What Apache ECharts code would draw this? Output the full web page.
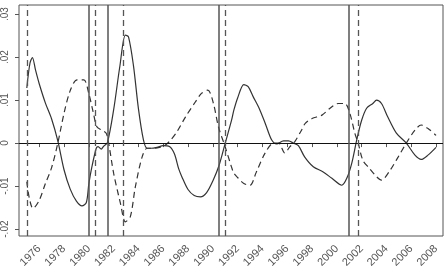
<!DOCTYPE html>
<html>
<head>
<meta charset="utf-8">
<script src="https://cdn.jsdelivr.net/npm/echarts@6/dist/echarts.min.js"></script>
<style>
  html, body { margin: 0; padding: 0; background: #fff; }
  #chart { width: 447px; height: 272px; }
</style>
</head>
<body>
<div id="chart"></div>
<script>
// solid series (years, values)
const solidYears = [1975.0, 1975.25, 1975.45, 1975.7, 1976.0, 1976.5, 1977.0, 1977.5, 1978.0, 1978.5,
  1979.0, 1979.45, 1979.8, 1980.0, 1980.25, 1980.6, 1980.75, 1981.0, 1981.2, 1981.5,
  1982.0, 1982.5, 1982.95, 1983.2, 1983.6, 1984.0, 1984.4, 1984.7, 1985.0, 1985.5,
  1986.0, 1986.5, 1986.9, 1987.25, 1987.5, 1988.0, 1988.5, 1989.0, 1989.5, 1990.0,
  1990.5, 1991.0, 1991.5, 1991.7, 1992.0, 1992.5, 1992.85, 1993.25, 1993.75, 1994.25,
  1994.75, 1995.15, 1995.7, 1996.1, 1996.5, 1996.9, 1997.4, 1998.1, 1998.9, 1999.6,
  2000.4, 2000.8, 2001.2, 2001.6, 2002.0, 2002.4, 2002.9, 2003.2, 2003.6, 2004.1,
  2004.8, 2005.6, 2006.3, 2006.8, 2007.35, 2008.0];
const solidValues = [0.0128, 0.0185, 0.0199, 0.0170, 0.0138, 0.0093, 0.0056, 0.0005, -0.0062, -0.0107,
  -0.0135, -0.0146, -0.0138, -0.0095, -0.0055, -0.0012, -0.0008, -0.0014, -0.0007, 0.0001,
  0.0077, 0.0178, 0.0251, 0.0247, 0.0180, 0.0080, 0.0008, -0.0012, -0.0012, -0.0010,
  -0.0006, -0.0008, -0.0025, -0.0060, -0.0078, -0.0108, -0.0122, -0.0125, -0.0115, -0.0088,
  -0.0052, 0.0, 0.0052, 0.0077, 0.0105, 0.0136, 0.0131, 0.0108, 0.0080, 0.0044,
  0.0007, -0.0002, 0.0005, 0.0005, 0.0, -0.0006, -0.0032, -0.0055, -0.0067, -0.0082,
  -0.0098, -0.0082, -0.0047, 0.0007, 0.0053, 0.0081, 0.0092, 0.0100, 0.0092, 0.0061,
  0.0023, 0.0, -0.0028, -0.0038, -0.0028, -0.0010];

// dashed series (years, values)
const dashedYears = [1975.0, 1975.2, 1975.5, 1976.0, 1976.5, 1977.0, 1977.5, 1978.0, 1978.5, 1979.05,
  1979.6, 1980.0, 1980.35, 1980.65, 1981.05, 1981.4, 1981.6, 1982.0, 1982.55, 1982.95,
  1983.35, 1983.75, 1984.3, 1984.7, 1985.2, 1985.7, 1986.15, 1986.6, 1987.1, 1987.8,
  1988.6, 1989.1, 1989.6, 1990.05, 1990.45, 1991.0, 1991.5, 1991.7, 1992.0, 1992.5,
  1993.0, 1993.5, 1994.2, 1994.9, 1995.3, 1995.8, 1996.2, 1996.6, 1997.15, 1997.45,
  1998.0, 1998.8, 1999.45, 2000.1, 2000.65, 2001.05, 2001.45, 2001.72, 2002.1, 2002.6,
  2003.2, 2003.6, 2004.3, 2004.95, 2005.6, 2006.3, 2006.8, 2007.35, 2008.0];
const dashedValues = [-0.0090, -0.0128, -0.0152, -0.0133, -0.0094, -0.0057, 0.0, 0.0069, 0.0122, 0.0147,
  0.0147, 0.0115, 0.0072, 0.0038, 0.0030, 0.0023, 0.0, -0.0070, -0.0140, -0.0183,
  -0.0171, -0.0102, -0.0032, -0.0012, -0.0012, -0.0010, -0.0005, 0.0007, 0.0026, 0.0061,
  0.0096, 0.0116, 0.0123, 0.0092, 0.0038, -0.0009, -0.0055, -0.0070, -0.0080, -0.0094,
  -0.0098, -0.0068, -0.0024, 0.0, 0.0, -0.0023, -0.0009, 0.0003, 0.0030, 0.0046,
  0.0057, 0.0065, 0.0081, 0.0092, 0.0092, 0.0069, 0.0023, 0.0, -0.0040, -0.0058,
  -0.0078, -0.0086, -0.0063, -0.0032, 0.0, 0.0030, 0.0042, 0.0034, 0.0018];

// vertical reference lines
const solidVLines = [1980.0, 1981.5, 1990.5, 2001.0];
const dashedVLines = [1975.0, 1980.5, 1982.75, 1991.0, 2001.75];

const xTicks = [1976, 1978, 1980, 1982, 1984, 1986, 1988, 1990, 1992, 1994, 1996, 1998, 2000, 2002, 2004, 2006, 2008];
const yTicks = [-0.02, -0.01, 0, 0.01, 0.02, 0.03];

const FONT = 'Liberation Sans';
const toPairs = (xs, ys) => xs.map((x, i) => [x, ys[i]]);

function fmtY(v) {
  if (Math.abs(v) < 1e-9) return '0';
  return (v < 0 ? '-' : '') + Math.abs(v).toFixed(2).replace(/^0/, '');
}

const chart = echarts.init(document.getElementById('chart'), null, { renderer: 'canvas' });

chart.setOption({
  animation: false,
  backgroundColor: '#fff',
  grid: {
    left: 18, right: 4, top: 5, bottom: 36,
    show: true, borderColor: '#555', borderWidth: 1, backgroundColor: 'transparent',
  },
  xAxis: {
    type: 'value',
    min: 1974.37,
    max: 2008.56,
    axisLine: { show: false },
    splitLine: { show: false },
    axisTick: { show: true, length: 4, customValues: xTicks, lineStyle: { color: '#555' } },
    axisLabel: {
      customValues: xTicks,
      rotate: 45,
      margin: 11,
      color: '#555',
      fontFamily: FONT,
      fontSize: 11,
      formatter: v => String(v),
    },
  },
  yAxis: {
    type: 'value',
    min: -0.0216,
    max: 0.0321,
    axisLine: { show: false },
    splitLine: { show: false },
    axisTick: { show: true, length: 4, customValues: yTicks, lineStyle: { color: '#555' } },
    axisLabel: {
      customValues: yTicks,
      rotate: 90,
      margin: 9,
      color: '#555',
      fontFamily: FONT,
      fontSize: 10,
      formatter: fmtY,
    },
  },
  series: [
    {
      type: 'line',
      data: toPairs(solidYears, solidValues),
      showSymbol: false,
      smooth: 0.3,
      lineStyle: { color: '#333', width: 1.2 },
      markLine: {
        silent: true,
        symbol: 'none',
        label: { show: false },
        data: [
          { yAxis: 0, lineStyle: { color: '#111', width: 1, type: 'solid' } },
          ...solidVLines.map(x => ({ xAxis: x, lineStyle: { color: '#555', width: 1.5, type: 'solid' } })),
          ...dashedVLines.map(x => ({ xAxis: x, lineStyle: { color: '#555', width: 1.3, type: [6, 4] } })),
        ],
      },
    },
    {
      type: 'line',
      data: toPairs(dashedYears, dashedValues),
      showSymbol: false,
      smooth: 0.3,
      lineStyle: { color: '#333', width: 1.2, type: [6, 4] },
    },
  ],
});
</script>
</body>
</html>
